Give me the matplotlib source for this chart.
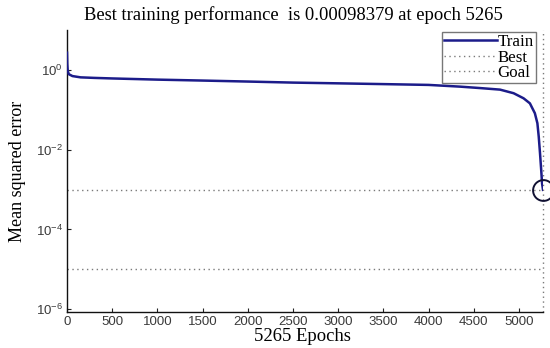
import matplotlib
matplotlib.use("Agg")
import matplotlib.pyplot as plt
from matplotlib.ticker import FixedLocator, FixedFormatter, NullLocator

plt.rcParams["mathtext.default"] = "regular"

# Training record (epoch, mean squared error)
epochs = [0, 3, 8, 20, 60, 150, 300, 500, 1000, 1500, 2000, 2500, 3000, 3500,
          4000, 4350, 4570, 4790, 4940, 5050, 5120, 5175, 5203, 5218, 5232,
          5245, 5255, 5265]
mse = [2.7, 1.4, 0.95, 0.78, 0.70, 0.65, 0.63, 0.61, 0.57, 0.54, 0.51, 0.48,
       0.46, 0.44, 0.42, 0.38, 0.35, 0.32, 0.26, 0.194, 0.145, 0.082, 0.046,
       0.021, 0.0081, 0.0031, 0.0014, 0.00098379]

best_epoch = 5265
best_perf = 0.00098379
goal = 1e-5

x_ticks = [0, 500, 1000, 1500, 2000, 2500, 3000, 3500, 4000, 4500, 5000]
y_ticks = [1e0, 1e-2, 1e-4, 1e-6]
y_tick_labels = ["$10^{0}$", "$10^{-2}$", "$10^{-4}$", "$10^{-6}$"]

serif = "Liberation Serif"
sans = "Liberation Sans"

fig = plt.figure(figsize=(5.5, 3.48), dpi=100)
ax = fig.add_axes([67 / 550, 36 / 348, 476 / 550, 282 / 348])

train_color = "#1c1c8a"
dot_color = "#7a7a7a"
dots = (0, (1, 2.5))

ax.plot(epochs, mse, color=train_color, lw=1.8, label="Train", zorder=3)
ax.axhline(best_perf, color=dot_color, ls=dots, lw=1.0, label="Best")
ax.axvline(best_epoch, color=dot_color, ls=dots, lw=1.0, clip_on=False)
ax.axhline(goal, color=dot_color, ls=dots, lw=1.0, label="Goal")
ax.plot([best_epoch], [best_perf], "o", mfc="none", mec="#111133", ms=15,
        mew=1.4, clip_on=False, zorder=4)

ax.set_yscale("log")
ax.set_xlim(0, 5265)
ax.set_ylim(10 ** -6.07, 10 ** 1.0)

ax.xaxis.set_major_locator(FixedLocator(x_ticks))
ax.yaxis.set_major_locator(FixedLocator(y_ticks))
ax.yaxis.set_major_formatter(FixedFormatter(y_tick_labels))
ax.yaxis.set_minor_locator(NullLocator())
ax.tick_params(direction="in", length=3, width=0.8, colors="#222222",
               labelsize=9.5, labelcolor="#3a3a3a", pad=3)
for lab in ax.get_xticklabels() + ax.get_yticklabels():
    lab.set_fontfamily(sans)

for side in ("top", "right"):
    ax.spines[side].set_visible(False)
for side in ("left", "bottom"):
    ax.spines[side].set_linewidth(1.0)
    ax.spines[side].set_color("#111111")

ax.set_title("Best training performance  is 0.00098379 at epoch 5265",
             fontfamily=serif, fontsize=13.4, pad=7, x=0.475)
ax.set_xlabel("5265 Epochs", fontfamily=serif, fontsize=13.4, labelpad=0)
ax.xaxis.set_label_coords(0.495, -0.055, transform=ax.transAxes)
ax.xaxis.label.set_verticalalignment("top")
ax.set_ylabel("Mean squared error", fontfamily=serif, fontsize=13, labelpad=7)

leg = ax.legend(loc="upper right", bbox_to_anchor=(0.985, 0.993),
                prop={"family": serif, "size": 12.2}, frameon=True,
                fancybox=False, edgecolor="#555555", handlelength=3.1,
                handletextpad=0.05, borderpad=0.12, labelspacing=-0.02,
                borderaxespad=0.0)
leg.get_frame().set_linewidth(1.0)
leg.set_zorder(5)

fig.savefig("out.png", dpi=100)
